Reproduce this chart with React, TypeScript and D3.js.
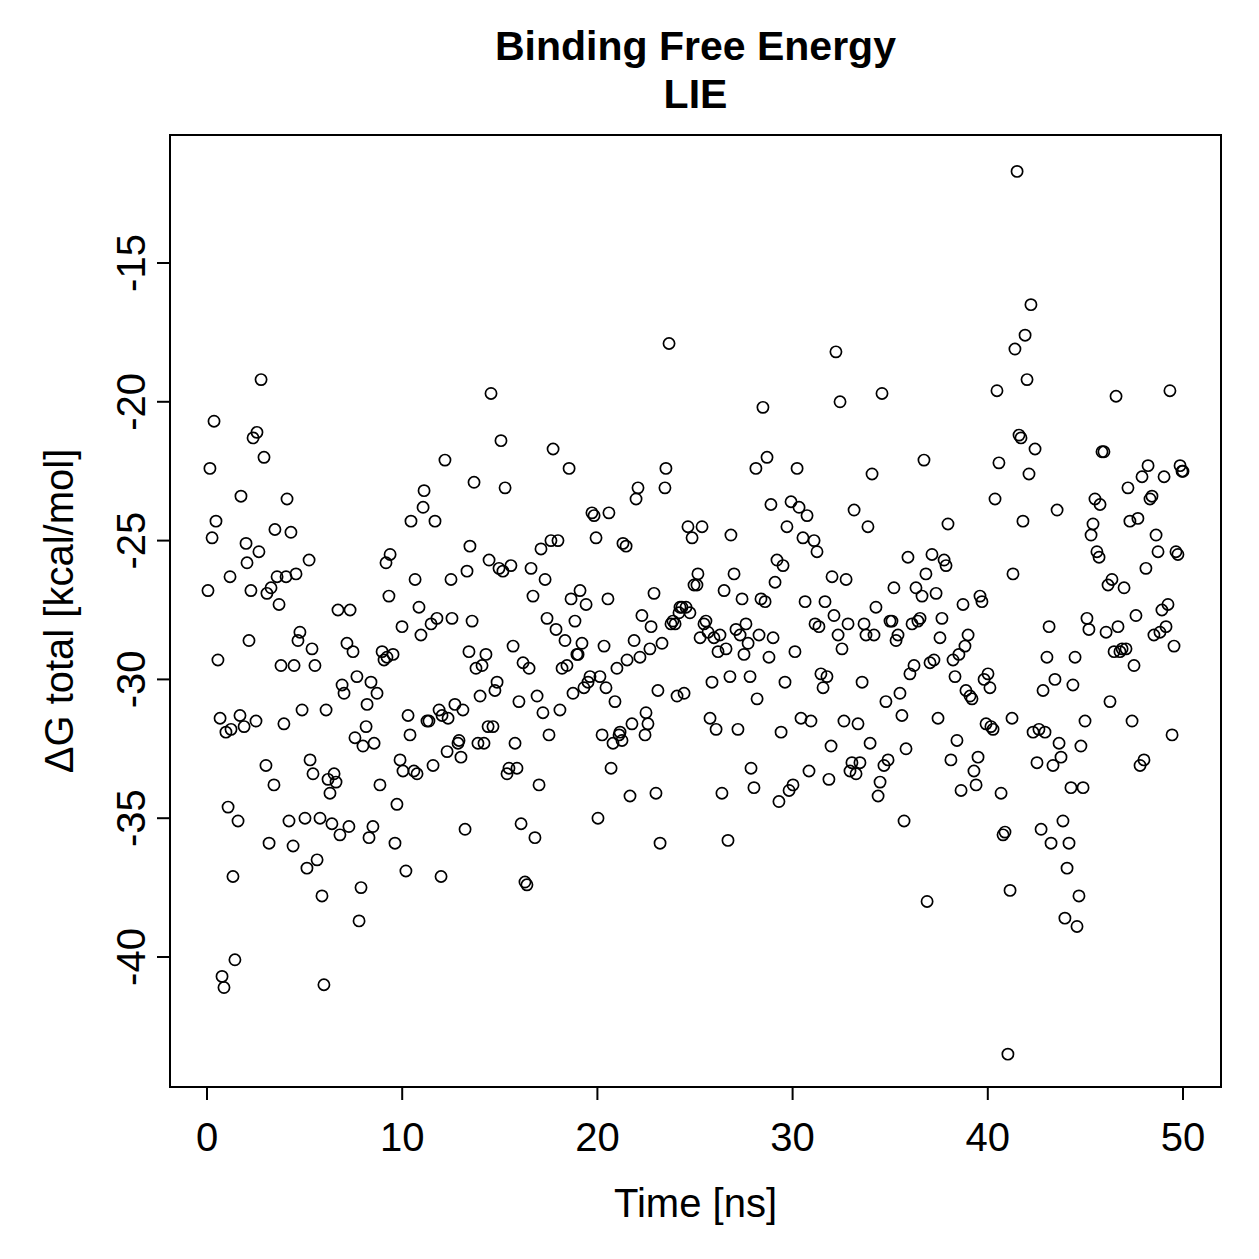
import React from "react";
import * as d3 from "d3";

// LIE binding free energy per frame: [time (ns), ΔG total (kcal/mol)]
const samples: [number, number][] = [
  [0.05,-26.8],[0.15,-22.4],[0.26,-24.9],[0.36,-20.7],[0.46,-24.3],[0.56,-29.3],[0.67,-31.4],[0.77,-40.7],[0.87,-41.1],[0.97,-31.9],
  [1.08,-34.6],[1.18,-26.3],[1.23,-31.8],[1.33,-37.1],[1.43,-40.1],[1.59,-35.1],[1.69,-31.3],[1.74,-23.4],[1.90,-31.7],[2.00,-25.1],
  [2.05,-25.8],[2.15,-28.6],[2.25,-26.8],[2.36,-21.3],[2.51,-31.5],[2.56,-21.1],[2.66,-25.4],[2.77,-19.2],[2.92,-22.0],[3.02,-33.1],
  [3.07,-26.9],[3.18,-35.9],[3.28,-26.7],[3.43,-33.8],[3.48,-24.6],[3.59,-26.3],[3.69,-27.3],[3.79,-29.5],[3.94,-31.6],[4.05,-26.3],
  [4.10,-23.5],[4.20,-35.1],[4.30,-24.7],[4.41,-36.0],[4.46,-29.5],[4.56,-26.2],[4.66,-28.6],[4.76,-28.3],[4.87,-31.1],[5.02,-35.0],
  [5.12,-36.8],[5.23,-25.7],[5.28,-32.9],[5.38,-28.9],[5.43,-33.4],[5.53,-29.5],[5.64,-36.5],[5.79,-35.0],[5.89,-37.8],[5.99,-41.0],
  [6.10,-31.1],[6.20,-33.6],[6.30,-34.1],[6.40,-35.2],[6.51,-33.4],[6.61,-33.7],[6.71,-27.5],[6.81,-35.6],[6.92,-30.2],[7.02,-30.5],
  [7.17,-28.7],[7.27,-35.3],[7.33,-27.5],[7.48,-29.0],[7.58,-32.1],[7.68,-29.9],[7.79,-38.7],[7.89,-37.5],[7.99,-32.4],[8.15,-31.7],
  [8.20,-30.9],[8.30,-35.7],[8.40,-30.1],[8.50,-35.3],[8.56,-32.3],[8.71,-30.5],[8.86,-33.8],[8.97,-29.0],[9.07,-29.3],[9.17,-25.8],
  [9.22,-29.2],[9.32,-27.0],[9.38,-25.5],[9.53,-29.1],[9.63,-35.9],[9.73,-34.5],[9.89,-32.9],[9.99,-28.1],[10.04,-33.3],[10.19,-36.9],
  [10.30,-31.3],[10.40,-32.0],[10.45,-24.3],[10.60,-33.3],[10.66,-26.4],[10.76,-33.4],[10.86,-27.4],[10.96,-28.4],[11.07,-23.8],[11.12,-23.2],
  [11.27,-31.5],[11.37,-31.5],[11.48,-28.0],[11.58,-33.1],[11.68,-24.3],[11.78,-27.8],[11.89,-31.1],[11.99,-37.1],[12.04,-31.3],[12.19,-22.1],
  [12.30,-32.6],[12.35,-31.4],[12.50,-26.4],[12.55,-27.8],[12.70,-30.9],[12.86,-32.3],[12.91,-32.2],[13.01,-32.8],[13.11,-31.1],[13.22,-35.4],
  [13.32,-26.1],[13.42,-29.0],[13.47,-25.2],[13.58,-27.9],[13.68,-22.9],[13.78,-29.6],[13.88,-32.3],[13.99,-30.6],[14.09,-29.5],[14.19,-32.3],
  [14.29,-29.1],[14.40,-31.7],[14.45,-25.7],[14.55,-19.7],[14.65,-31.7],[14.75,-30.4],[14.86,-30.1],[14.96,-26.0],[15.06,-21.4],[15.16,-26.1],
  [15.27,-23.1],[15.37,-33.4],[15.47,-33.2],[15.57,-25.9],[15.68,-28.8],[15.78,-32.3],[15.88,-33.2],[15.98,-30.8],[16.09,-35.2],[16.19,-29.4],
  [16.29,-37.3],[16.39,-37.4],[16.50,-29.6],[16.60,-26.0],[16.70,-27.0],[16.80,-35.7],[16.91,-30.6],[17.01,-33.8],[17.11,-25.3],[17.21,-31.2],
  [17.32,-26.4],[17.42,-27.8],[17.52,-32.0],[17.62,-25.0],[17.73,-21.7],[17.88,-28.2],[17.98,-25.0],[18.08,-31.1],[18.19,-29.6],[18.34,-28.6],
  [18.44,-29.5],[18.55,-22.4],[18.65,-27.1],[18.75,-30.5],[18.85,-27.9],[18.95,-29.1],[19.01,-29.1],[19.11,-26.8],[19.21,-28.7],[19.31,-30.3],
  [19.42,-27.3],[19.52,-30.1],[19.62,-29.9],[19.72,-24.0],[19.83,-24.1],[19.93,-24.9],[20.03,-35.0],[20.13,-29.9],[20.24,-32.0],[20.34,-28.8],
  [20.44,-30.3],[20.54,-27.1],[20.59,-24.0],[20.70,-33.2],[20.80,-32.3],[20.90,-30.8],[21.00,-29.6],[21.11,-32.0],[21.16,-31.9],[21.26,-32.2],
  [21.31,-25.1],[21.47,-25.2],[21.52,-29.3],[21.67,-34.2],[21.77,-31.6],[21.88,-28.6],[21.98,-23.5],[22.08,-23.1],[22.18,-29.2],[22.28,-27.7],
  [22.44,-32.0],[22.49,-31.2],[22.59,-31.6],[22.69,-28.9],[22.75,-28.1],[22.90,-26.9],[23.00,-34.1],[23.10,-30.4],[23.21,-35.9],[23.31,-28.7],
  [23.46,-23.1],[23.51,-22.4],[23.67,-17.9],[23.77,-28.0],[23.87,-27.9],[23.98,-28.0],[24.08,-30.6],[24.18,-27.6],[24.23,-27.4],[24.33,-27.4],
  [24.44,-30.5],[24.54,-27.4],[24.64,-24.5],[24.74,-27.6],[24.85,-24.9],[24.95,-26.6],[25.10,-26.6],[25.15,-26.2],[25.26,-28.5],[25.36,-24.5],
  [25.46,-28.0],[25.56,-27.9],[25.67,-28.3],[25.77,-31.4],[25.87,-30.1],[25.97,-28.5],[26.08,-31.8],[26.18,-29.0],[26.28,-28.4],[26.38,-34.1],
  [26.49,-26.8],[26.59,-28.9],[26.69,-35.8],[26.79,-29.9],[26.84,-24.8],[27.00,-26.2],[27.10,-28.2],[27.20,-31.8],[27.31,-28.4],[27.41,-27.1],
  [27.51,-29.1],[27.61,-28.0],[27.72,-28.7],[27.82,-29.9],[27.87,-33.2],[28.02,-33.9],[28.12,-22.4],[28.18,-30.7],[28.28,-28.4],[28.38,-27.1],
  [28.48,-20.2],[28.59,-27.2],[28.69,-22.0],[28.79,-29.2],[28.89,-23.7],[29.00,-28.5],[29.10,-26.5],[29.20,-25.7],[29.30,-34.4],[29.41,-31.9],
  [29.51,-25.9],[29.61,-30.1],[29.71,-24.5],[29.82,-34.0],[29.92,-23.6],[30.02,-33.8],[30.12,-29.0],[30.23,-22.4],[30.33,-23.8],[30.43,-31.4],
  [30.53,-24.9],[30.64,-27.2],[30.74,-24.1],[30.84,-33.3],[30.94,-31.5],[31.10,-25.0],[31.15,-28.0],[31.25,-25.4],[31.35,-28.1],[31.45,-29.8],
  [31.56,-30.3],[31.66,-27.2],[31.76,-29.9],[31.86,-33.6],[31.97,-32.4],[32.02,-26.3],[32.12,-27.7],[32.22,-18.2],[32.33,-28.4],[32.43,-20.0],
  [32.53,-28.9],[32.63,-31.5],[32.74,-26.4],[32.84,-28.0],[32.94,-33.3],[33.04,-33.0],[33.15,-23.9],[33.25,-33.4],[33.35,-31.6],[33.45,-33.0],
  [33.56,-30.1],[33.66,-28.0],[33.76,-28.4],[33.86,-24.5],[33.97,-32.3],[34.07,-22.6],[34.17,-28.4],[34.27,-27.4],[34.38,-34.2],[34.48,-33.7],
  [34.58,-19.7],[34.68,-33.1],[34.78,-30.8],[34.89,-32.9],[34.99,-27.9],[35.09,-27.9],[35.19,-26.7],[35.30,-28.6],[35.40,-28.4],[35.50,-30.5],
  [35.60,-31.3],[35.71,-35.1],[35.81,-32.5],[35.91,-25.6],[36.01,-29.8],[36.12,-28.0],[36.22,-29.5],[36.32,-26.7],[36.42,-27.9],[36.53,-27.8],
  [36.63,-27.0],[36.73,-22.1],[36.83,-26.2],[36.89,-38.0],[37.04,-29.4],[37.14,-25.5],[37.24,-29.3],[37.35,-26.9],[37.45,-31.4],[37.55,-28.5],
  [37.65,-27.8],[37.76,-25.7],[37.86,-25.9],[37.96,-24.4],[38.11,-32.9],[38.22,-29.3],[38.32,-29.9],[38.42,-32.2],[38.52,-29.1],[38.63,-34.0],
  [38.73,-27.3],[38.83,-28.8],[38.88,-30.4],[38.99,-28.4],[39.09,-30.6],[39.19,-30.7],[39.29,-33.3],[39.40,-33.8],[39.50,-32.8],[39.60,-27.0],
  [39.70,-27.2],[39.81,-30.0],[39.91,-31.6],[40.01,-29.8],[40.11,-30.3],[40.16,-31.7],[40.27,-31.8],[40.37,-23.5],[40.47,-19.6],[40.57,-22.2],
  [40.68,-34.1],[40.78,-35.6],[40.88,-35.5],[41.03,-43.5],[41.14,-37.6],[41.24,-31.4],[41.29,-26.2],[41.39,-18.1],[41.50,-11.7],[41.60,-21.2],
  [41.70,-21.3],[41.80,-24.3],[41.91,-17.6],[42.01,-19.2],[42.11,-22.6],[42.21,-16.5],[42.32,-31.9],[42.42,-21.7],[42.52,-33.0],[42.62,-31.8],
  [42.73,-35.4],[42.83,-30.4],[42.93,-31.9],[43.03,-29.2],[43.14,-28.1],[43.24,-35.9],[43.34,-33.1],[43.44,-30.0],[43.55,-23.9],[43.65,-32.3],
  [43.75,-32.8],[43.85,-35.1],[43.95,-38.6],[44.06,-36.8],[44.16,-35.9],[44.26,-33.9],[44.36,-30.2],[44.47,-29.2],[44.57,-38.9],[44.67,-37.8],
  [44.77,-32.4],[44.88,-33.9],[44.98,-31.5],[45.08,-27.8],[45.18,-28.2],[45.29,-24.8],[45.39,-24.4],[45.49,-23.5],[45.59,-25.4],[45.70,-25.6],
  [45.75,-23.7],[45.85,-21.8],[45.95,-21.8],[46.06,-28.3],[46.16,-26.6],[46.26,-30.8],[46.36,-26.4],[46.47,-29.0],[46.57,-19.8],[46.67,-28.1],
  [46.77,-29.0],[46.88,-28.9],[46.98,-26.7],[47.08,-28.9],[47.18,-23.1],[47.28,-24.3],[47.39,-31.5],[47.49,-29.5],[47.59,-27.7],[47.69,-24.2],
  [47.80,-33.1],[47.90,-22.7],[48.00,-32.9],[48.10,-26.0],[48.21,-22.3],[48.31,-23.5],[48.41,-23.4],[48.51,-28.4],[48.62,-24.8],[48.72,-25.4],
  [48.82,-28.3],[48.92,-27.5],[49.03,-22.7],[49.13,-28.1],[49.23,-27.3],[49.33,-19.6],[49.44,-32.0],[49.54,-28.8],[49.64,-25.4],[49.74,-25.5],
  [49.85,-22.3],[49.95,-22.5],[50.0,-22.5],
];

const xTicks = [0, 10, 20, 30, 40, 50];
const yTicks = [-15, -20, -25, -30, -35, -40];
const titleLines = ["Binding Free Energy", "LIE"];
const xLabel = "Time [ns]";
const yLabel = "ΔG total [kcal/mol]";

const W = 1259;
const H = 1259;
const box = { left: 170, right: 1221, top: 135, bottom: 1087 };
const FONT = "'Liberation Sans', Arial, Helvetica, sans-serif";

export default function App() {
  const x = d3.scaleLinear().domain([0, 50]).range([207, 1183]);
  const y = d3.scaleLinear().domain([-15, -40]).range([263, 957]);
  const tickLen = 13;
  const fs = 40;

  return (
    <svg
      width={W}
      height={H}
      viewBox={`0 0 ${W} ${H}`}
      style={{ position: "absolute", left: 0, top: 0, background: "#fff" }}
      fontFamily={FONT}
    >
      <rect x={0} y={0} width={W} height={H} fill="#fff" />

      {/* title */}
      <text x={(box.left + box.right) / 2} y={60} textAnchor="middle" fontSize={41} fontWeight="bold">
        {titleLines[0]}
      </text>
      <text x={(box.left + box.right) / 2} y={108} textAnchor="middle" fontSize={41} fontWeight="bold">
        {titleLines[1]}
      </text>

      {/* data points */}
      <g fill="none" stroke="#000" strokeWidth={1.7}>
        {samples.map(([t, v], i) => (
          <circle key={i} cx={x(t)} cy={y(v)} r={5.6} />
        ))}
      </g>

      {/* plot frame */}
      <rect
        x={box.left}
        y={box.top}
        width={box.right - box.left}
        height={box.bottom - box.top}
        fill="none"
        stroke="#000"
        strokeWidth={2}
      />

      {/* x axis */}
      <g stroke="#000" strokeWidth={2}>
        <line x1={x(0)} x2={x(50)} y1={box.bottom} y2={box.bottom} />
        {xTicks.map((t) => (
          <line key={t} x1={x(t)} x2={x(t)} y1={box.bottom} y2={box.bottom + tickLen} />
        ))}
      </g>
      {xTicks.map((t) => (
        <text key={t} x={x(t)} y={1151} textAnchor="middle" fontSize={fs}>
          {t}
        </text>
      ))}
      <text x={(box.left + box.right) / 2} y={1217} textAnchor="middle" fontSize={fs}>
        {xLabel}
      </text>

      {/* y axis */}
      <g stroke="#000" strokeWidth={2}>
        {yTicks.map((t) => (
          <line key={t} x1={box.left - tickLen} x2={box.left} y1={y(t)} y2={y(t)} />
        ))}
      </g>
      {yTicks.map((t) => (
        <text
          key={t}
          transform={`translate(145, ${y(t)}) rotate(-90)`}
          textAnchor="middle"
          fontSize={fs}
        >
          {t}
        </text>
      ))}
      <text
        transform={`translate(73, ${(box.top + box.bottom) / 2}) rotate(-90)`}
        textAnchor="middle"
        fontSize={fs}
      >
        {yLabel}
      </text>
    </svg>
  );
}
